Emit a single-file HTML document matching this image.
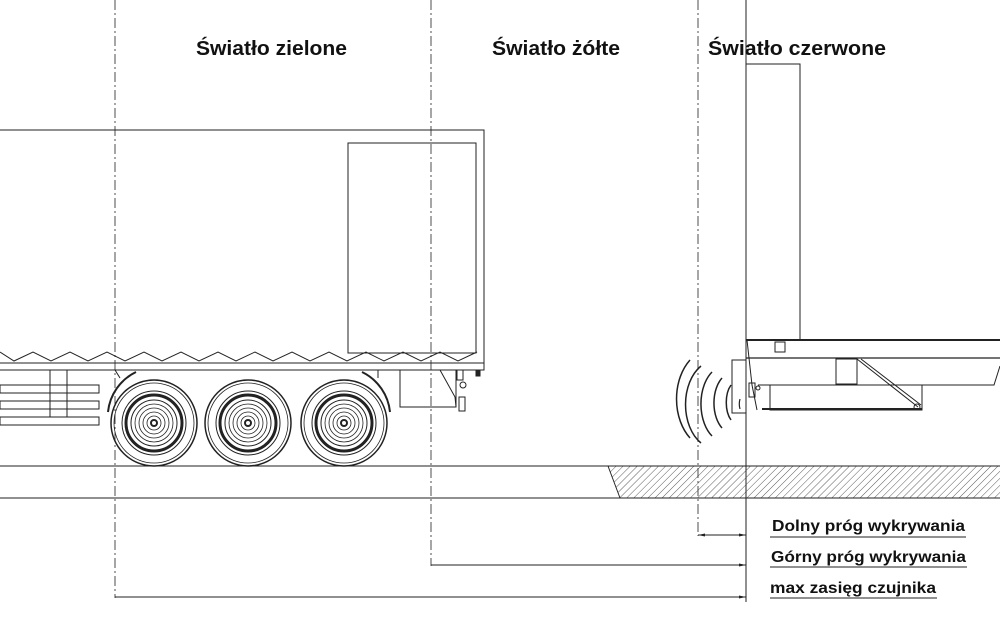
<!DOCTYPE html>
<html><head><meta charset="utf-8"><style>
html,body{margin:0;padding:0;background:#fff;}
svg{display:block;}
text{font-family:"Liberation Sans",sans-serif;font-weight:bold;fill:#111;}
</style></head><body>
<svg width="1000" height="618" viewBox="0 0 1000 618" xmlns="http://www.w3.org/2000/svg">
<defs>
<pattern id="h" width="5" height="5" patternUnits="userSpaceOnUse" patternTransform="rotate(45)">
<line x1="0" y1="0" x2="0" y2="5" stroke="#333" stroke-width="0.8"/>
</pattern>
</defs>
<g stroke="#222" fill="none" stroke-width="1">
<line x1="115" y1="0" x2="115" y2="598" stroke-dasharray="10,3,2,3" stroke-width="0.8"/>
<line x1="431" y1="0" x2="431" y2="566" stroke-dasharray="10,3,2,3" stroke-width="0.8"/>
<line x1="698" y1="0" x2="698" y2="536" stroke-dasharray="10,3,2,3" stroke-width="0.8"/>
<line x1="746" y1="0" x2="746" y2="602"/>
<rect x="746" y="64" width="54" height="276"/>
<polyline points="0,130 484,130 484,370 0,370"/>
<rect x="348" y="143" width="128" height="210"/>
<line x1="0" y1="363" x2="484" y2="363"/>
<polyline points="0,352 14,361 33,352 51,361 70,352 88,361 107,352 125,361 144,352 162,361 181,352 199,361 218,352 236,361 255,352 273,361 292,352 310,361 329,352 347,361 366,352 384,361 403,352 421,361 440,352 458,361 477,352"/>
<rect x="0" y="385" width="99" height="8"/>
<rect x="0" y="401" width="99" height="8"/>
<rect x="0" y="417" width="99" height="8"/>
<line x1="50" y1="370" x2="50" y2="417"/>
<line x1="67" y1="370" x2="67" y2="417"/>
<path d="M108,412 A50,50 0 0 1 136,372" stroke-width="2"/>
<path d="M362,372 A50,50 0 0 1 390,412" stroke-width="2"/>
<line x1="115" y1="370" x2="120" y2="378"/><line x1="378" y1="370" x2="378" y2="378"/>
<rect x="400" y="370" width="56" height="37"/>
<polyline points="440,370 455,397 456,407"/>
<rect x="457" y="370" width="6" height="10"/>
<circle cx="463" cy="385" r="3"/>
<rect x="459" y="397" width="6" height="14"/>
<rect x="476" y="370" width="4" height="6" fill="#222"/>
</g>
<g stroke="#222" fill="none">
<g id="w">
<circle cx="154" cy="423" r="43" stroke-width="1.5"/>
<circle cx="154" cy="423" r="40" stroke-width="0.8"/>
<circle cx="154" cy="423" r="32" stroke-width="1"/>
<circle cx="154" cy="423" r="28" stroke-width="3"/>
<circle cx="154" cy="423" r="23" stroke-width="1"/>
<circle cx="154" cy="423" r="19" stroke-width="0.8"/>
<circle cx="154" cy="423" r="15" stroke-width="0.8"/>
<circle cx="154" cy="423" r="11" stroke-width="0.8"/>
<circle cx="154" cy="423" r="7" stroke-width="0.8"/>
<circle cx="154" cy="423" r="3" stroke-width="2"/>
</g>
<use href="#w" x="94"/>
<use href="#w" x="190"/>
</g>
<g stroke="#222" fill="none">
<polygon points="608,466 1000,466 1000,498 620,498" fill="url(#h)" stroke="none"/>
<line x1="0" y1="466" x2="1000" y2="466"/>
<line x1="0" y1="498" x2="1000" y2="498"/>
<line x1="608" y1="466" x2="620" y2="498"/>
</g>
<g stroke="#222" fill="none">
<line x1="746" y1="340" x2="1000" y2="340" stroke-width="2"/>
<line x1="746" y1="358" x2="1000" y2="358" stroke-width="1.2"/>
<polyline points="758,385 994,385 1000,366"/>
<rect x="775" y="342" width="10" height="10"/>
<polyline points="747,340 752,385 757,410"/>
<rect x="732" y="360" width="14" height="53"/>
<rect x="749" y="383" width="6" height="14"/>
<circle cx="758" cy="388" r="2"/>
<rect x="770" y="385" width="152" height="25"/>
<line x1="762" y1="409" x2="922" y2="409" stroke-width="2"/>
<rect x="836" y="359" width="21" height="25"/>
<line x1="857" y1="359" x2="918" y2="407"/>
<line x1="861" y1="359" x2="921" y2="405"/>
<circle cx="917" cy="407" r="3"/>
<path d="M740,399 A5,10 0 0 0 740,409" stroke-width="1.2"/>
<path d="M731,385 A12,22 0 0 0 731,420" stroke-width="1.5"/>
<path d="M722,378 A18,30 0 0 0 722,428" stroke-width="1.5"/>
<path d="M712,372 A24,38 0 0 0 712,436" stroke-width="1.5"/>
<path d="M701,366 A30,44 0 0 0 701,443" stroke-width="1.5"/>
<path d="M690,360 A36,50 0 0 0 690,438" stroke-width="1.5"/>
</g>
<g stroke="#222" fill="none" stroke-width="1">
<line x1="698" y1="535" x2="746" y2="535"/>
<line x1="431" y1="565" x2="746" y2="565"/>
<line x1="115" y1="597" x2="746" y2="597"/>
<line x1="770" y1="537" x2="966" y2="537"/>
<line x1="770" y1="567" x2="967" y2="567"/>
<line x1="770" y1="598" x2="937" y2="598"/>
</g>
<g fill="#222">
<polygon points="698,535 705,533.5 705,536.5"/>
<polygon points="746,535 739,533.5 739,536.5"/>
<polygon points="746,565 739,563.5 739,566.5"/>
<polygon points="746,597 739,595.5 739,598.5"/>
</g>
<text x="196" y="55" font-size="20" textLength="151" lengthAdjust="spacingAndGlyphs">Światło zielone</text>
<text x="492" y="55" font-size="20" textLength="128" lengthAdjust="spacingAndGlyphs">Światło żółte</text>
<text x="708" y="55" font-size="20" textLength="178" lengthAdjust="spacingAndGlyphs">Światło czerwone</text>
<text x="772" y="531" font-size="16" textLength="193" lengthAdjust="spacingAndGlyphs">Dolny próg wykrywania</text>
<text x="771" y="562" font-size="16" textLength="195" lengthAdjust="spacingAndGlyphs">Górny próg wykrywania</text>
<text x="770" y="593" font-size="16" textLength="166" lengthAdjust="spacingAndGlyphs">max zasięg czujnika</text>
</svg>
</body></html>
